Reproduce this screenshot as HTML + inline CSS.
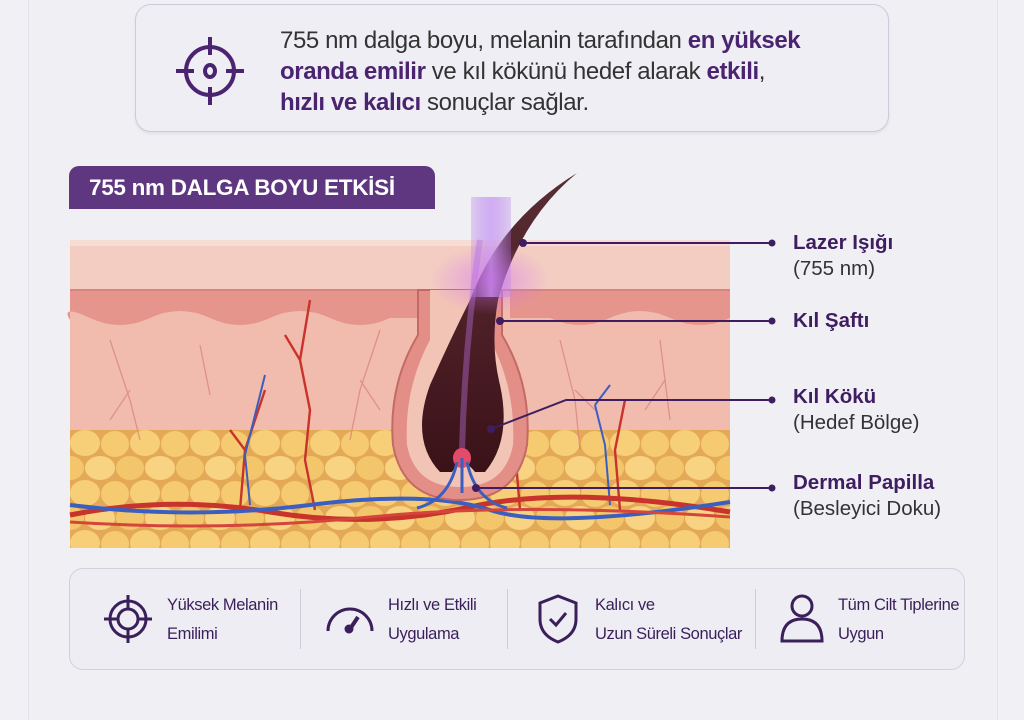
<!DOCTYPE html>
<html><head><meta charset="utf-8"><style>
body{margin:0;width:1024px;height:702px;background:#f1f0f5;font-family:"Liberation Sans",sans-serif;overflow:hidden;position:relative}
.card{position:absolute;left:28px;top:-10px;width:968px;height:730px;background:#f0eff4;border-left:1px solid #e4e2ea;border-right:1px solid #e4e2ea}
.top{position:absolute;left:135px;top:4px;width:752px;height:126px;border:1.5px solid #cfc9da;border-radius:16px;background:#efeef4;box-shadow:0 2px 3px rgba(0,0,0,.06)}
.top p{position:absolute;left:144px;top:20px;margin:0;font-size:24px;line-height:31px;color:#333;letter-spacing:-.4px;white-space:nowrap}
.top b{color:#4a2470}
.badge{position:absolute;left:69px;top:166px;width:366px;height:43px;background:#5f3680;border-radius:10px 10px 0 0;color:#fff;font-weight:bold;font-size:22.5px;line-height:43px;padding-left:20px;box-sizing:border-box;white-space:nowrap;letter-spacing:-.3px}
.lbl{position:absolute;left:793px;font-size:20.5px;line-height:26px;color:#333;white-space:nowrap}
.lbl b{color:#3e1e60}
.bot{position:absolute;left:69px;top:568px;width:894px;height:100px;border:1.5px solid #d3cfdc;border-radius:14px;background:#eeedf3}
.it{position:absolute;top:22px;font-size:16.5px;line-height:29px;color:#3a1f5a;white-space:nowrap;letter-spacing:-.4px}
.sep{position:absolute;top:20px;width:1px;height:60px;background:#cfcbd8}
</style></head><body>
<div class="card"></div>
<div class="top">
<svg style="position:absolute;left:36px;top:28px" width="76" height="76" viewBox="0 0 76 76" fill="none" stroke="#4a2470" stroke-width="4"><circle cx="38" cy="38" r="24"/><ellipse cx="38" cy="38" rx="5" ry="6"/><path d="M38 4v18M38 54v18M4 38h18M54 38h18"/></svg>
<p>755 nm dalga boyu, melanin tarafından <b>en yüksek<br>oranda emilir</b> ve kıl kökünü hedef alarak <b>etkili</b>,<br><b>hızlı ve kalıcı</b> sonuçlar sağlar.</p>
</div>
<div class="badge">755 nm DALGA BOYU ETKİSİ</div>
<svg style="position:absolute;left:0;top:0" width="1024" height="702">
<defs>
<pattern id="fat" width="60" height="50" patternUnits="userSpaceOnUse" x="70" y="430">
<rect width="60" height="50" fill="#e4a956"/>
<ellipse cx="15" cy="13" rx="15" ry="13" fill="#f7cf78"/><ellipse cx="45" cy="14" rx="14" ry="13" fill="#f5ca70"/>
<ellipse cx="30" cy="38" rx="15" ry="12" fill="#f8d382"/><ellipse cx="0" cy="38" rx="14" ry="12" fill="#f4c66c"/><ellipse cx="60" cy="38" rx="14" ry="12" fill="#f4c66c"/>
</pattern>
<linearGradient id="beam" x1="0" x2="1"><stop offset="0" stop-color="#b27be6" stop-opacity=".3"/><stop offset=".5" stop-color="#c99cf5" stop-opacity=".8"/><stop offset="1" stop-color="#b27be6" stop-opacity=".3"/></linearGradient>
<radialGradient id="glow" cx=".5" cy=".5" r=".5"><stop offset="0" stop-color="#d070f0" stop-opacity=".55"/><stop offset="1" stop-color="#d070f0" stop-opacity="0"/></radialGradient>
<linearGradient id="hair" x1="0" y1="0" x2="0" y2="1"><stop offset="0" stop-color="#5a2e35"/><stop offset=".6" stop-color="#4a1c24"/><stop offset="1" stop-color="#3a1218"/></linearGradient>
</defs>
<rect x="70" y="240" width="660" height="308" fill="#f1bcae"/>
<rect x="70" y="430" width="660" height="118" fill="url(#fat)"/>
<rect x="70" y="240" width="660" height="50" fill="#f4cdc2"/>
<rect x="70" y="240" width="660" height="6" fill="#f7dcd3"/>
<path d="M70 290H730V318q-30 14-60 0t-60 0t-60 0l-40 0v-28H420v28l-30 0q-30 14-60 0t-60 0t-60 0t-60 0t-60 0t-20 2z" fill="#e6958c"/>
<path d="M70 290H730" stroke="#d7847c" stroke-width="2"/>
<g stroke="#d9867e" stroke-width="1.3" fill="none" opacity=".8">
<path d="M110 340l20 60 10 40M130 390l-20 30M380 330l-20 60-10 50M360 380l20 30M560 340l15 60 5 50M575 390l20 20M660 340l10 80M665 380l-20 30M200 345l10 50"/></g>
<g stroke="#c8332c" stroke-width="2.4" fill="none">
<path d="M310 300l-10 60 10 50-5 50 10 50M300 360l-15-25M240 510l5-60 20-60M245 450l-15-20M620 510l-5-60 10-50M520 510l-5-60"/></g>
<g stroke="#3b5fc0" stroke-width="2" fill="none"><path d="M250 505l-5-50 20-80M610 505l-5-60-10-40M595 405l15-20"/></g>
<path d="M70 515q100-20 200-3t200-5 260 5" stroke="#c8332c" stroke-width="5" fill="none"/>
<path d="M70 505q120 15 240 0t180 5 240 -8" stroke="#3b5fc0" stroke-width="4" fill="none"/>
<path d="M70 522q150 10 300-5t360 0" stroke="#d4453b" stroke-width="3" fill="none"/>
<path d="M418 290V335q-30 50-25 110 10 55 67 55 57 0 67-55 5-60-25-110V290z" fill="#e38f87" stroke="#c46a64" stroke-width="2"/>
<path d="M430 290V340q-26 48-23 105 8 42 53 42 45 0 53-42 3-57-23-105V290z" fill="#f2c4b6"/>
<path d="M577 173Q500 220 470 300Q450 340 430 385Q410 440 440 472L452 472Q462 455 475 472L485 472Q512 440 500 385Q490 345 498 300Q520 220 577 173z" fill="url(#hair)"/>
<path d="M480 240Q465 340 462 450" stroke="#b06ad0" stroke-width="6" opacity=".45" fill="none"/>
<rect x="471" y="197" width="40" height="100" fill="url(#beam)"/>
<ellipse cx="490" cy="280" rx="60" ry="35" fill="url(#glow)"/>
<ellipse cx="462" cy="458" rx="9" ry="10" fill="#e64a6a"/>
<path d="M462 458v35M457 462q-8 38-40 46M467 462q8 38 40 46" stroke="#3b5fc0" stroke-width="3" fill="none"/>
<g stroke="#3e1e60" stroke-width="2" fill="none">
<path d="M523 243H772M500 321H772M491 429L566 400H772M476 488H772"/></g>
<g fill="#3e1e60">
<circle cx="523" cy="243" r="4"/><circle cx="772" cy="243" r="3.5"/>
<circle cx="500" cy="321" r="4"/><circle cx="772" cy="321" r="3.5"/>
<circle cx="491" cy="429" r="4"/><circle cx="772" cy="400" r="3.5"/>
<circle cx="476" cy="488" r="4"/><circle cx="772" cy="488" r="3.5"/>
</g>
</svg>
<div class="lbl" style="top:230px"><b>Lazer Işığı</b><br>(755 nm)</div>
<div class="lbl" style="top:308px"><b>Kıl Şaftı</b></div>
<div class="lbl" style="top:384px"><b>Kıl Kökü</b><br>(Hedef Bölge)</div>
<div class="lbl" style="top:470px"><b>Dermal Papilla</b><br>(Besleyici Doku)</div>
<div class="bot">
<svg style="position:absolute;left:32px;top:24px" width="52" height="52" viewBox="0 0 52 52" fill="none" stroke="#3a1f5a" stroke-width="3"><circle cx="26" cy="26" r="18"/><circle cx="26" cy="26" r="10"/><path d="M26 2v14M26 36v14M2 26h14M36 26h14"/></svg>
<div class="it" style="left:97px">Yüksek Melanin<br>Emilimi</div>
<div class="sep" style="left:230px"></div>
<svg style="position:absolute;left:254px;top:30px" width="52" height="36" viewBox="0 0 52 36" fill="none" stroke="#3a1f5a" stroke-width="3"><path d="M4 32A22 22 0 0 1 48 32"/><path d="M26 30l8-12" stroke-width="4"/><circle cx="25" cy="30" r="3" fill="#3a1f5a"/></svg>
<div class="it" style="left:318px">Hızlı ve Etkili<br>Uygulama</div>
<div class="sep" style="left:437px"></div>
<svg style="position:absolute;left:466px;top:24px" width="44" height="52" viewBox="0 0 44 52" fill="none" stroke="#3a1f5a" stroke-width="3"><path d="M22 3l18 7v16q0 16-18 23Q4 42 4 26V10z"/><path d="M14 26l6 6 10-12"/></svg>
<div class="it" style="left:525px">Kalıcı ve<br>Uzun Süreli Sonuçlar</div>
<div class="sep" style="left:685px"></div>
<svg style="position:absolute;left:708px;top:24px" width="48" height="50" viewBox="0 0 48 50" fill="none" stroke="#3a1f5a" stroke-width="3"><circle cx="24" cy="13" r="10"/><path d="M4 48q0-22 20-22t20 22z"/></svg>
<div class="it" style="left:768px">Tüm Cilt Tiplerine<br>Uygun</div>
</div>
</body></html>
